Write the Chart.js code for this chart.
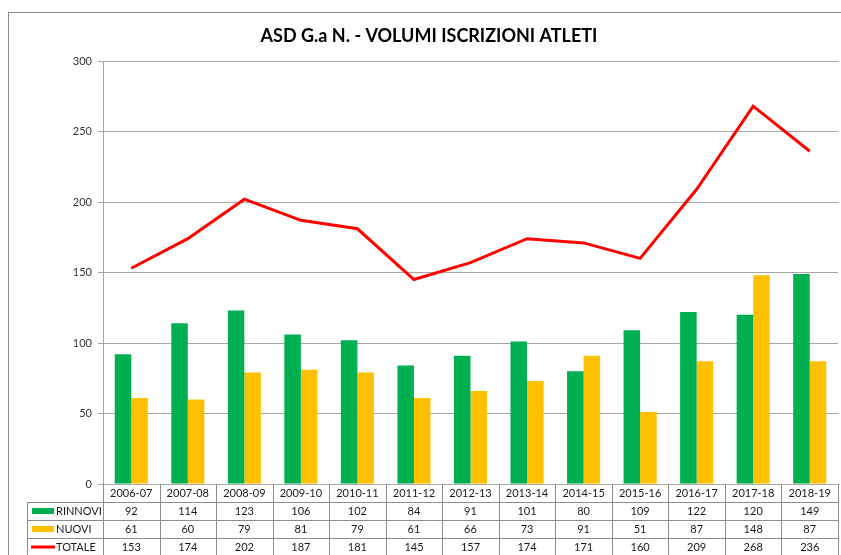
<!DOCTYPE html>
<html>
<head>
<meta charset="utf-8">
<script src="https://cdn.jsdelivr.net/npm/chart.js@4.4.1/dist/chart.umd.min.js"></script>
<style>
  html, body { margin: 0; padding: 0; background: #fff; }
  #wrap { width: 841px; height: 555px; }
</style>
</head>
<body>
<div id="wrap"><canvas id="chart" width="841" height="555"></canvas></div>
<script>
const stagioni = ['2006-07', '2007-08', '2008-09', '2009-10', '2010-11', '2011-12', '2012-13',
                  '2013-14', '2014-15', '2015-16', '2016-17', '2017-18', '2018-19'];
const rinnovi = [92, 114, 123, 106, 102, 84, 91, 101, 80, 109, 122, 120, 149];
const nuovi   = [61, 60, 79, 81, 79, 61, 66, 73, 91, 51, 87, 148, 87];
const totale  = [153, 174, 202, 187, 181, 145, 157, 174, 171, 160, 209, 268, 236];
const yTicks  = [0, 50, 100, 150, 200, 250, 300];

const TITLE = 'ASD G.a N. - VOLUMI ISCRIZIONI ATLETI';
const FONT = 'Lato, "Open Sans", sans-serif';
const GREEN = '#00B050', YELLOW = '#FFC000', RED = '#FF0000';
const GRID = '#a6a6a6', TABLE_LINE = '#8c8c8c', TEXT = '#1a1a1a';

const ROW_H = 18;

// outer frame + title
const framePlugin = {
    id: 'frame',
    beforeDraw(chart) {
        const ctx = chart.ctx;
        ctx.save();
        ctx.strokeStyle = TABLE_LINE;
        ctx.lineWidth = 1;
        ctx.strokeRect(8.5, 12.5, 900, 600);
        ctx.fillStyle = '#000';
        ctx.font = 'bold 18px ' + FONT;
        ctx.textAlign = 'center';
        ctx.textBaseline = 'middle';
        ctx.fillText(TITLE, 429, 36);
        ctx.restore();
    }
};

// data table under the plot
const tablePlugin = {
    id: 'dataTable',
    afterDraw(chart) {
        const ctx = chart.ctx;
        const x = chart.scales.x;
        const area = chart.chartArea;
        const top = area.bottom;
        const left = 27, right = area.right;
        const n = stagioni.length;
        const step = (x.getPixelForValue(1) - x.getPixelForValue(0));
        ctx.save();
        ctx.strokeStyle = TABLE_LINE;
        ctx.lineWidth = 1;
        ctx.beginPath();
        for (let r = 1; r <= 4; r++) {
            const y = Math.round(top + r * ROW_H) + 0.5;
            ctx.moveTo(left, y);
            ctx.lineTo(right, y);
        }
        const bottom = top + 4 * ROW_H;
        ctx.moveTo(left + 0.5, top + ROW_H);
        ctx.lineTo(left + 0.5, bottom);
        for (let i = 0; i <= n; i++) {
            const px = Math.round(x.getPixelForValue(i) - step / 2) + 0.5;
            ctx.moveTo(px, top);
            ctx.lineTo(px, bottom);
        }
        ctx.stroke();

        ctx.fillStyle = TEXT;
        ctx.font = '11px ' + FONT;
        ctx.textAlign = 'center';
        ctx.textBaseline = 'middle';
        const rows = [rinnovi, nuovi, totale];
        stagioni.forEach((s, i) => {
            const cx = x.getPixelForValue(i);
            ctx.fillText(s, cx, top + ROW_H / 2);
            rows.forEach((row, r) => ctx.fillText(String(row[i]), cx, top + ROW_H * (r + 1.5)));
        });

        // legend keys
        chart.data.datasets.forEach((ds, r) => {
            const cy = top + ROW_H * (r + 1.5);
            if (ds.type === 'line') {
                ctx.fillStyle = RED;
                ctx.fillRect(31, cy - 1.5, 24, 3);
            } else {
                ctx.fillStyle = ds.backgroundColor;
                ctx.fillRect(32, cy - 3, 22, 6);
            }
            ctx.fillStyle = TEXT;
            ctx.textAlign = 'left';
            ctx.fillText(ds.label, 56, cy + 0.5);
        });
        ctx.restore();
    }
};

new Chart(document.getElementById('chart'), {
    data: {
        labels: stagioni,
        datasets: [
            {
                type: 'bar',
                label: 'RINNOVI',
                data: rinnovi,
                backgroundColor: GREEN,
                categoryPercentage: 0.585,
                barPercentage: 1,
                order: 2
            },
            {
                type: 'bar',
                label: 'NUOVI',
                data: nuovi,
                backgroundColor: YELLOW,
                categoryPercentage: 0.585,
                barPercentage: 1,
                order: 2
            },
            {
                type: 'line',
                label: 'TOTALE',
                data: totale,
                borderColor: RED,
                borderWidth: 3,
                pointRadius: 0,
                tension: 0,
                fill: false,
                order: 1
            }
        ]
    },
    options: {
        responsive: false,
        animation: false,
        layout: { padding: { top: 61, right: 3, left: 0, bottom: 0 } },
        scales: {
            x: {
                ticks: { display: false },
                grid: { display: false, drawTicks: false },
                border: { display: false },
                afterFit: s => { s.height = 71; }
            },
            y: {
                min: 0,
                max: 300,
                afterBuildTicks: s => { s.ticks = yTicks.map(v => ({ value: v })); },
                afterFit: s => { s.width = 103; },
                ticks: { color: '#333', font: { family: FONT, size: 11 }, padding: 6 },
                grid: { color: GRID, lineWidth: 1, tickLength: 5 },
                border: { color: GRID, width: 1 }
            }
        },
        plugins: {
            legend: { display: false },
            title: { display: false },
            tooltip: { enabled: false }
        }
    },
    plugins: [framePlugin, tablePlugin]
});
</script>
</body>
</html>
